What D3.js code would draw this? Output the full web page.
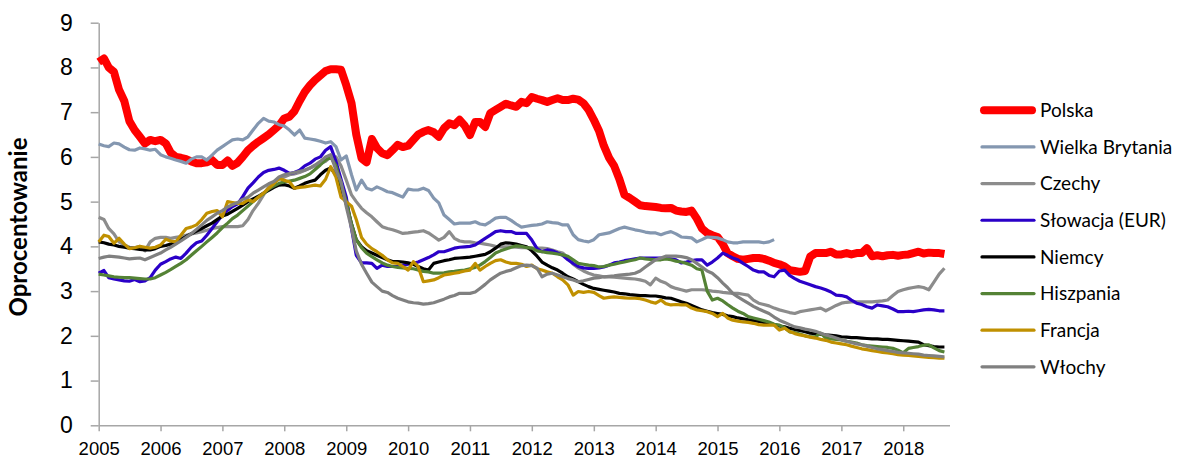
<!DOCTYPE html>
<html>
<head>
<meta charset="utf-8">
<script src="https://cdn.jsdelivr.net/npm/d3@7"></script>
<style>
  body { margin: 0; background: #fff; }
  svg { font-family: Lato, "Open Sans", sans-serif; }
</style>
</head>
<body>
<div id="chart"></div>
<script>
// monthly values, Jan 2005 .. Sep 2018 (UK ends Dec 2015)
const polska = [
  8.12, 8.2, 8.0, 7.9, 7.5, 7.25, 6.8, 6.6, 6.45, 6.3, 6.38, 6.35,
  6.38, 6.3, 6.1, 6.0, 5.98, 5.95, 5.9, 5.86, 5.86, 5.88, 5.93, 5.82,
  5.82, 5.92, 5.8, 5.87, 6.0, 6.15, 6.25, 6.34, 6.42, 6.5, 6.6, 6.7,
  6.86, 6.9, 7.02, 7.25, 7.45, 7.6, 7.72, 7.82, 7.92, 7.96, 7.96, 7.95,
  7.6, 7.2, 6.5, 5.97, 5.88, 6.4, 6.2, 6.08, 6.04, 6.15, 6.27, 6.22,
  6.25, 6.38, 6.5, 6.56, 6.6, 6.55, 6.45, 6.64, 6.75, 6.71, 6.83, 6.7,
  6.49, 6.78, 6.78, 6.67, 6.98, 7.05, 7.12, 7.19, 7.15, 7.12, 7.23, 7.2,
  7.34, 7.3, 7.27, 7.23, 7.27, 7.31, 7.27, 7.27, 7.3, 7.28, 7.2, 7.05,
  6.83, 6.58, 6.25, 5.98, 5.8, 5.5, 5.15, 5.08, 5.0, 4.92, 4.9, 4.89,
  4.88, 4.86, 4.85, 4.86, 4.8, 4.78, 4.77, 4.8, 4.62, 4.4, 4.3, 4.25,
  4.21, 4.05, 3.85, 3.78, 3.72, 3.7, 3.72, 3.74, 3.74, 3.72, 3.68, 3.63,
  3.6, 3.55, 3.47, 3.45, 3.43, 3.45, 3.77, 3.85, 3.85, 3.85, 3.88, 3.82,
  3.82, 3.85, 3.82, 3.85, 3.85, 3.96, 3.78, 3.8, 3.78, 3.8, 3.81, 3.79,
  3.81, 3.82, 3.85, 3.88, 3.84, 3.86, 3.85, 3.85, 3.83
];
const wielkaBrytania = [
  6.29, 6.25, 6.23, 6.31, 6.29, 6.22, 6.16, 6.15, 6.2, 6.18, 6.15, 6.17,
  6.05, 6.0, 5.97, 5.93, 5.9, 5.86, 5.95, 6.0, 6.0, 5.93, 6.04, 6.15,
  6.23, 6.31, 6.38, 6.4, 6.38, 6.45, 6.6, 6.75, 6.86, 6.8, 6.78, 6.72,
  6.69, 6.6, 6.49, 6.6, 6.42, 6.4, 6.38, 6.35, 6.31, 6.34, 6.23, 5.93,
  6.02, 5.6, 5.26, 5.48, 5.3, 5.26, 5.33, 5.28, 5.22, 5.2, 5.15, 5.1,
  5.28, 5.26, 5.26, 5.3, 5.25, 5.08, 4.97, 4.7, 4.6, 4.5, 4.52, 4.52,
  4.52, 4.55, 4.5, 4.48, 4.55, 4.63, 4.65, 4.65, 4.58, 4.5, 4.43, 4.45,
  4.47, 4.48, 4.5, 4.55, 4.53, 4.52, 4.48, 4.48, 4.26, 4.15, 4.12, 4.1,
  4.15, 4.26, 4.28, 4.3, 4.35, 4.4, 4.43, 4.4, 4.37, 4.35, 4.32, 4.3,
  4.3, 4.26, 4.3, 4.33, 4.28, 4.21, 4.2, 4.19, 4.1, 4.15, 4.21, 4.2,
  4.19, 4.15, 4.1, 4.08, 4.08, 4.1, 4.1, 4.1, 4.1, 4.08, 4.1, 4.15
];
const czechy = [
  4.65, 4.6, 4.4, 4.28, 4.1, 4.03, 3.98, 3.97, 4.0, 3.9, 4.1, 4.18,
  4.2, 4.2, 4.18, 4.2, 4.22, 4.25, 4.28, 4.3, 4.33, 4.36, 4.4, 4.42,
  4.44, 4.44, 4.44, 4.44, 4.46, 4.6, 4.8, 4.96, 5.15, 5.33, 5.44, 5.5,
  5.55, 5.6, 5.62, 5.65, 5.7, 5.75, 5.8, 5.85, 5.9, 6.0, 6.0, 5.8,
  5.48, 5.15, 5.0, 4.85, 4.75, 4.66, 4.55, 4.44, 4.4, 4.37, 4.33, 4.29,
  4.3, 4.32, 4.33, 4.35, 4.3, 4.22, 4.14, 4.2, 4.33, 4.18, 4.12, 4.1,
  4.1, 4.08, 4.07, 4.05, 4.03, 4.0, 3.99, 3.99, 3.99, 3.98, 3.97, 3.97,
  3.96, 3.96, 3.96, 3.95, 3.92, 3.88, 3.85, 3.75, 3.6, 3.52, 3.45, 3.4,
  3.36, 3.34, 3.32, 3.32, 3.31, 3.3, 3.29, 3.28, 3.27, 3.25, 3.22, 3.14,
  3.29, 3.22, 3.18, 3.1, 3.06, 3.03, 3.0, 3.03, 3.03, 3.03, 3.02, 3.0,
  2.99, 2.97, 2.96, 2.95, 2.95, 2.93, 2.91, 2.8, 2.73, 2.7, 2.67, 2.62,
  2.58, 2.55, 2.52, 2.5, 2.54, 2.56, 2.58, 2.6, 2.62, 2.56, 2.62, 2.68,
  2.73, 2.75, 2.76, 2.76, 2.76, 2.76, 2.76, 2.77, 2.78, 2.8, 2.9, 2.99,
  3.03, 3.06, 3.08, 3.1, 3.08, 3.03, 3.2, 3.38, 3.51
];
const slowacja = [
  3.4, 3.46, 3.3, 3.27, 3.25, 3.23, 3.22, 3.26, 3.21, 3.23, 3.3, 3.47,
  3.6, 3.66, 3.72, 3.76, 3.73, 3.85, 3.98, 4.08, 4.12, 4.25, 4.4, 4.55,
  4.7, 4.81, 4.89, 4.95, 5.11, 5.3, 5.42, 5.55, 5.65, 5.7, 5.72, 5.75,
  5.7, 5.63, 5.65, 5.7, 5.8, 5.86, 5.95, 6.0, 6.15, 6.23, 5.9, 5.5,
  5.1, 4.4, 3.8, 3.63, 3.63, 3.62, 3.51, 3.58, 3.55, 3.55, 3.55, 3.58,
  3.6, 3.62, 3.65, 3.7, 3.75, 3.81, 3.88, 3.88, 3.92, 3.96, 3.98, 3.99,
  4.0, 4.03, 4.1, 4.18, 4.25, 4.33, 4.35, 4.33, 4.33, 4.29, 4.29, 4.29,
  4.14, 3.95, 3.88, 3.92, 3.9, 3.85, 3.8, 3.7, 3.62, 3.55, 3.52, 3.51,
  3.51, 3.52, 3.54, 3.58, 3.63, 3.65, 3.68, 3.7, 3.72, 3.74, 3.74, 3.74,
  3.74, 3.74, 3.74, 3.72, 3.7, 3.63, 3.65, 3.68, 3.7, 3.7, 3.58, 3.65,
  3.74, 3.85, 3.8, 3.74, 3.7, 3.62, 3.55, 3.47, 3.43, 3.43, 3.35, 3.32,
  3.45, 3.47, 3.35, 3.28, 3.22, 3.18, 3.14, 3.1, 3.07, 3.03, 2.98, 2.91,
  2.9, 2.87, 2.8, 2.73, 2.7, 2.65, 2.62, 2.69, 2.67, 2.65, 2.6, 2.54,
  2.54, 2.55, 2.54, 2.56, 2.58, 2.59, 2.58, 2.56, 2.56
];
const niemcy = [
  4.1, 4.08, 4.05, 4.03, 4.0, 3.98, 3.96, 3.95, 3.93, 3.92, 3.92, 3.95,
  4.0, 4.02, 4.05, 4.1, 4.15, 4.22, 4.28, 4.34, 4.4, 4.46, 4.52, 4.6,
  4.68, 4.72, 4.78, 4.85, 4.92, 5.0, 5.06, 5.12, 5.19, 5.25, 5.32, 5.37,
  5.38, 5.35, 5.3, 5.35, 5.41, 5.45, 5.48, 5.6, 5.7, 5.75, 5.6, 5.3,
  4.95, 4.5, 4.15, 3.99, 3.9, 3.85, 3.8, 3.75, 3.7, 3.66, 3.66, 3.65,
  3.63, 3.6, 3.55, 3.5, 3.47, 3.62, 3.65, 3.68, 3.7, 3.73, 3.74, 3.75,
  3.76, 3.78, 3.8, 3.82, 3.88, 3.96, 4.05, 4.08, 4.07, 4.05, 4.02, 3.99,
  3.9, 3.78, 3.65, 3.58, 3.52, 3.47, 3.4, 3.32, 3.27, 3.21, 3.15, 3.1,
  3.06, 3.04, 3.02, 3.0, 2.98, 2.95, 2.94, 2.92, 2.91, 2.9, 2.9, 2.89,
  2.89, 2.87, 2.85, 2.84, 2.8, 2.76, 2.73, 2.68, 2.63, 2.58, 2.55, 2.52,
  2.5, 2.48, 2.45, 2.43, 2.4, 2.38, 2.36, 2.34, 2.32, 2.3, 2.28, 2.25,
  2.22, 2.2, 2.17, 2.14, 2.12, 2.09, 2.06, 2.05, 2.04, 2.02, 2.01, 2.0,
  1.98, 1.97, 1.96, 1.96, 1.95, 1.94, 1.93, 1.93, 1.92, 1.92, 1.91, 1.9,
  1.89, 1.88, 1.87, 1.86, 1.8, 1.78, 1.76, 1.75, 1.75
];
const hiszpania = [
  3.38, 3.36, 3.34, 3.32, 3.31, 3.3, 3.3, 3.29, 3.28, 3.27, 3.27, 3.3,
  3.36, 3.42, 3.48, 3.55, 3.62, 3.7, 3.8, 3.9, 4.0, 4.1, 4.2, 4.3,
  4.42, 4.52, 4.62, 4.7, 4.8, 4.9, 5.0, 5.1, 5.18, 5.28, 5.35, 5.41,
  5.44, 5.46, 5.48, 5.52, 5.56, 5.62, 5.72, 5.82, 5.93, 6.0, 5.8, 5.4,
  5.0, 4.5, 4.15, 3.97, 3.85, 3.77, 3.7, 3.63, 3.58, 3.55, 3.53, 3.52,
  3.51, 3.5, 3.47, 3.44, 3.43, 3.4, 3.4, 3.41, 3.43, 3.44, 3.46, 3.47,
  3.5, 3.53, 3.58, 3.66, 3.75, 3.85, 3.9, 3.94, 3.98, 4.01, 4.0, 3.97,
  3.96, 3.9, 3.88, 3.86, 3.85, 3.83, 3.81, 3.78, 3.7, 3.62, 3.6, 3.58,
  3.57, 3.54, 3.55, 3.58, 3.6, 3.63, 3.65, 3.68, 3.7, 3.74, 3.72, 3.71,
  3.7, 3.7, 3.72, 3.7, 3.67, 3.65, 3.62, 3.58, 3.5, 3.47, 3.0, 2.8,
  2.84, 2.78, 2.7, 2.62, 2.55, 2.5, 2.43, 2.4, 2.37, 2.34, 2.31, 2.26,
  2.24, 2.18, 2.09, 2.07, 2.04, 2.0, 1.98, 1.98, 2.06, 1.95, 1.93, 1.92,
  1.91, 1.88, 1.86, 1.84, 1.8, 1.78, 1.77, 1.76, 1.75, 1.74, 1.72, 1.68,
  1.62, 1.72, 1.74, 1.76, 1.79, 1.8, 1.73, 1.67, 1.64
];
const francja = [
  4.1, 4.25, 4.22, 4.07, 4.18, 4.05, 3.95, 3.97, 4.0, 3.98, 3.96, 3.98,
  4.03, 4.16, 4.12, 4.1, 4.25, 4.4, 4.43, 4.48, 4.6, 4.74, 4.78, 4.8,
  4.66, 5.0, 4.98, 4.96, 4.96, 5.04, 5.0, 5.1, 5.19, 5.3, 5.4, 5.52,
  5.48, 5.44, 5.3, 5.32, 5.33, 5.35, 5.37, 5.35, 5.5, 5.78, 5.55, 5.1,
  5.0, 4.9, 4.6, 4.2, 4.05, 3.95, 3.88, 3.8, 3.7, 3.63, 3.62, 3.55,
  3.47, 3.66, 3.55, 3.21, 3.23, 3.25, 3.3, 3.36, 3.38, 3.4, 3.42, 3.45,
  3.47, 3.62, 3.47, 3.55, 3.62, 3.68, 3.7, 3.65, 3.62, 3.62, 3.6, 3.55,
  3.58, 3.5, 3.47, 3.43, 3.4, 3.32, 3.25, 3.14, 2.91, 2.99, 2.97, 2.99,
  2.97, 2.9, 2.84, 2.86, 2.87, 2.86, 2.85, 2.84, 2.84, 2.83, 2.8, 2.76,
  2.73, 2.8, 2.72, 2.69, 2.7, 2.69, 2.69, 2.62, 2.58, 2.56, 2.54, 2.5,
  2.43, 2.5, 2.4, 2.35, 2.33, 2.31, 2.3, 2.28, 2.25, 2.24, 2.24, 2.24,
  2.13, 2.17, 2.1, 2.05, 2.02, 2.0, 1.97, 1.95, 1.92, 1.9, 1.86, 1.84,
  1.82, 1.8, 1.77, 1.74, 1.71, 1.69, 1.67, 1.65, 1.63, 1.62, 1.6, 1.58,
  1.57, 1.56, 1.55, 1.54, 1.53, 1.52, 1.51, 1.5, 1.5
];
const wlochy = [
  3.73, 3.76, 3.78, 3.77, 3.76, 3.74, 3.72, 3.73, 3.74, 3.7, 3.75, 3.8,
  3.85, 3.92, 3.98, 4.05, 4.12, 4.2, 4.28, 4.38, 4.48, 4.58, 4.66, 4.74,
  4.8, 4.88, 4.93, 4.98, 5.05, 5.1, 5.19, 5.26, 5.33, 5.4, 5.45, 5.55,
  5.6, 5.63, 5.65, 5.68, 5.7, 5.75, 5.82, 5.9, 6.0, 6.05, 5.7, 5.45,
  4.89, 4.4, 3.9, 3.6, 3.4, 3.2, 3.1, 3.0, 2.97, 2.9, 2.84, 2.8,
  2.76, 2.74, 2.73, 2.71, 2.72, 2.74, 2.78, 2.82, 2.87, 2.9, 2.95, 2.95,
  2.95, 2.98, 3.06, 3.15, 3.25, 3.33, 3.4, 3.44, 3.47, 3.52, 3.57, 3.58,
  3.57, 3.51, 3.32, 3.38, 3.4, 3.36, 3.32, 3.28, 3.25, 3.21, 3.23, 3.26,
  3.29, 3.3, 3.32, 3.33, 3.34, 3.36, 3.37, 3.38, 3.4, 3.45, 3.54, 3.62,
  3.7, 3.74, 3.78, 3.78, 3.78, 3.77, 3.75, 3.7, 3.62, 3.54, 3.45, 3.4,
  3.3, 3.18, 3.08, 2.95, 2.87, 2.8, 2.73, 2.66, 2.6, 2.55, 2.5, 2.42,
  2.35, 2.3, 2.25, 2.2, 2.18, 2.15, 2.13, 2.1, 2.06, 2.02, 1.99, 1.95,
  1.91, 1.88, 1.85, 1.82, 1.8, 1.77, 1.74, 1.71, 1.69, 1.67, 1.65, 1.63,
  1.62, 1.61, 1.6, 1.59, 1.57, 1.56, 1.55, 1.54, 1.53
];

const seriesNames = ["Polska", "Wielka Brytania", "Czechy", "Słowacja (EUR)", "Niemcy", "Hiszpania", "Francja", "Włochy"];
const seriesValues = [polska, wielkaBrytania, czechy, slowacja, niemcy, hiszpania, francja, wlochy];
const seriesColors = ["#ff0000", "#8497b0", "#8c8c8c", "#2a00c8", "#000000", "#548235", "#c09000", "#808080"];
const seriesWidths = [8, 3.2, 3.2, 3.2, 3.2, 3.2, 3.2, 3.2];
const yTicks = [0, 1, 2, 3, 4, 5, 6, 7, 8, 9];

const months = d3.timeMonth.range(new Date(2005, 0, 1), new Date(2018, 9, 1));

const width = 1177, height = 461;
const svg = d3.select("#chart").append("svg")
    .attr("width", width)
    .attr("height", height);

const x = d3.scaleTime()
    .domain([new Date(2005, 0, 1), new Date(2018, 9, 1)])
    .range([98.7, 949.5]);
const y = d3.scaleLinear()
    .domain([0, 9])
    .range([425.3, 22.7]);

//axes
const yAxis = svg.append("g")
    .attr("transform", "translate(98.7,0)")
    .call(d3.axisLeft(y).tickValues(yTicks).tickSize(8).tickSizeOuter(0).tickPadding(18));
const xAxis = svg.append("g")
    .attr("transform", "translate(0,425.3)")
    .call(d3.axisBottom(x).ticks(d3.timeYear.every(1)).tickFormat(d3.timeFormat("%Y"))
        .tickSize(6).tickSizeOuter(0).tickPadding(11));

svg.selectAll(".domain, .tick line")
    .attr("stroke", "#a6a6a6")
    .attr("stroke-width", 1.5);
yAxis.selectAll("text").attr("font-size", 23).attr("fill", "#000");
xAxis.selectAll("text").attr("font-size", 18.5).attr("fill", "#000");

svg.append("text")
    .attr("transform", "translate(27,227) rotate(-90)")
    .attr("text-anchor", "middle")
    .attr("font-size", 24)
    .attr("font-weight", "bold")
    .text("Oprocentowanie");

//lines
const line = d3.line()
    .x((d, i) => x(months[i]))
    .y(d => y(d));

svg.append("g").selectAll("path")
    .data(seriesValues)
    .join("path")
    .attr("d", d => line(d))
    .attr("fill", "none")
    .attr("stroke", (d, i) => seriesColors[i])
    .attr("stroke-width", (d, i) => seriesWidths[i])
    .attr("stroke-linejoin", "round");

//legend
const legend = svg.append("g")
    .attr("transform", "translate(980,110.3)");
const items = legend.selectAll("g")
    .data(seriesNames)
    .join("g")
    .attr("transform", (d, i) => `translate(0,${i * 36.65})`);
items.append("line")
    .attr("x1", (d, i) => i === 0 ? 4 : 2)
    .attr("x2", (d, i) => i === 0 ? 52 : 54)
    .attr("stroke", (d, i) => seriesColors[i])
    .attr("stroke-width", (d, i) => seriesWidths[i])
    .attr("stroke-linecap", "round");
items.append("text")
    .attr("x", 60)
    .attr("dy", "0.35em")
    .attr("font-size", 19)
    .text(d => d);
</script>
</body>
</html>
